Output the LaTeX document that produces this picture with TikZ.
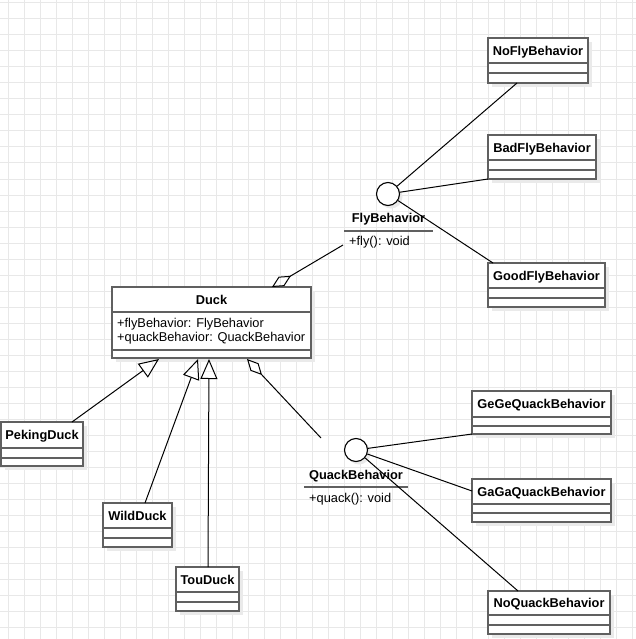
\documentclass[tikz,border=0pt]{standalone}
\usepackage{fontspec}
\setmainfont{Liberation Sans}
\usetikzlibrary{arrows.meta,calc}
\definecolor{gridc}{RGB}{232,232,232}
\definecolor{shadowc}{RGB}{234,234,234}
\definecolor{boxc}{RGB}{96,96,96}
\tikzset{
  clsbox/.style={draw=boxc, line width=1.6pt, fill=white, rectangle, inner sep=0pt, outer sep=0pt},
  sepline/.style={draw=boxc, line width=1.6pt},
  ctitle/.style={font=\fontsize{12.8}{15}\selectfont\bfseries, inner sep=0pt, anchor=base},
  ctext/.style={font=\fontsize{12.8}{15}\selectfont, inner sep=0pt, anchor=base west},
  iface/.style={circle, draw=black, line width=1.1pt, fill=white, minimum size=23pt, inner sep=0pt},
  conn/.style={draw=black, line width=1pt},
  agg/.style={conn, -{Diamond[open, length=22pt, width=11pt, line width=1pt]}},
  inh/.style={conn, -{Triangle[open, length=20pt, width=17pt, line width=1pt]}}
}
% name, x, y, width, h1, h2, h3, title
\newcommand\classbox[8]{%
  \fill[shadowc] (#2+4,#3+4) rectangle ++(#4,#5+#6+#7);
  \node[clsbox, anchor=north west, minimum width=#4, minimum height=#5+#6+#7] (#1) at (#2,#3) {};
  \node[ctitle] (#1-t) at ($(#1.north)+(0,#5/2+4.6)$) {#8};
  \draw[sepline] (#2,#3+#5) -- ++(#4,0);
  \draw[sepline] (#2,#3+#5+#6) -- ++(#4,0);
}
\begin{document}
\begin{tikzpicture}[x=1pt,y=-1pt]
\useasboundingbox (0,0) rectangle (636,639);
\fill[white] (0,0) rectangle (636,639);
% grid
\foreach \i in {0,...,39} { \draw[gridc, line width=1pt] (8+16*\i,0) -- (8+16*\i,639); }
\foreach \j in {0,...,39} { \draw[gridc, line width=1pt] (0,3+16*\j) -- (636,3+16*\j); }

% classes
\classbox{nofly}{488}{38}{100}{25}{10}{10}{NoFlyBehavior}
\classbox{badfly}{488}{135}{108}{25}{10}{9}{BadFlyBehavior}
\classbox{goodfly}{488}{263}{117}{25}{10}{9}{GoodFlyBehavior}
\classbox{duck}{112}{287}{199}{25}{38}{8}{Duck}
\classbox{peking}{1}{422}{82}{26}{10}{8}{PekingDuck}
\classbox{wild}{103}{503}{69}{25}{10}{9}{WildDuck}
\classbox{tou}{176}{567}{63}{25}{10}{9}{TouDuck}
\classbox{gege}{472}{391}{139}{26}{9}{8}{GeGeQuackBehavior}
\classbox{gaga}{472}{479}{139}{25}{9}{9}{GaGaQuackBehavior}
\classbox{noquack}{488}{591}{122}{24}{10}{9}{NoQuackBehavior}

\node[ctext] (duckattr1) at (117,327.6) {+flyBehavior: FlyBehavior};
\node[ctext] (duckattr2) at (117,341.6) {+quackBehavior: QuackBehavior};

% interfaces
\fill[shadowc] (391,197) circle (11.5);
\node[iface] (fly) at (388,194) {};
\node[ctitle] (flyname) at (388.5,222.7) {FlyBehavior};
\draw[sepline] (344,231) -- (433,231);
\node[ctext] (flyop) at (349,245.5) {+fly(): void};

\fill[shadowc] (359,453) circle (11.5);
\node[iface] (quack) at (356,450) {};
\node[ctitle] (quackname) at (356,479) {QuackBehavior};
\draw[sepline] (304,487) -- (408,487);
\node[ctext] (quackop) at (309,502.5) {+quack(): void};

% realization lines
\draw[conn] (fly) -- ($(nofly.south west)+(29,0)$);
\draw[conn] (fly) -- (badfly.south west);
\draw[conn] (fly) -- ($(goodfly.north west)+(5,0)$);
\draw[conn] (quack) -- (gege.south west);
\draw[conn] (quack) -- ($(gaga.north west)+(0,12)$);
\draw[conn] (quack) -- ($(noquack.north west)+(30,0)$);

% aggregation
\coordinate (aggA) at (343,245);
\coordinate (aggB) at (321,438);
\draw[agg] (aggA) -- ($(duck.north west)+(160,0)$);
\draw[agg] (aggB) -- ($(duck.south west)+(135,1)$);

% inheritance
\draw[inh] ($(peking.north west)+(71,0)$) -- ($(duck.south west)+(47,1)$);
\draw[inh] ($(wild.north west)+(42,0)$) -- ($(duck.south west)+(86,1)$);
\draw[inh] ($(tou.north west)+(32,0)$) -- ($(duck.south west)+(97,1)$);
\end{tikzpicture}
\end{document}
